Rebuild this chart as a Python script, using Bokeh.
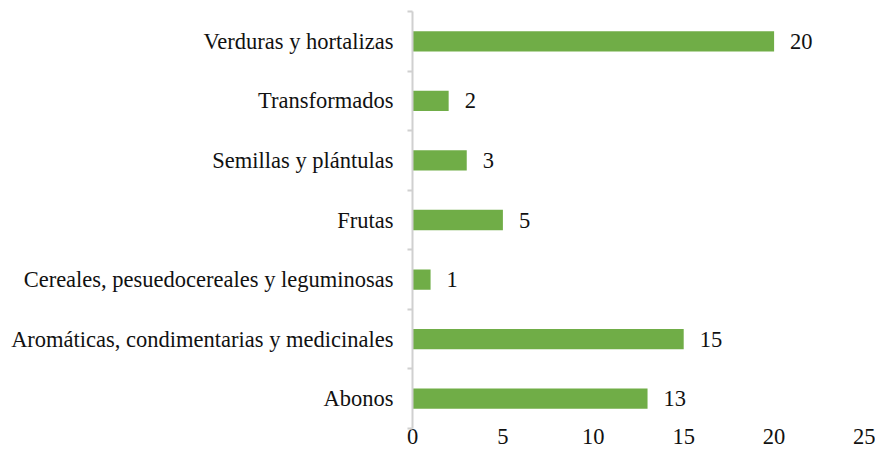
from bokeh.plotting import figure
from bokeh.models import ColumnDataSource, FixedTicker, Range1d
from bokeh.core.properties import value
from bokeh.embed import file_html
from bokeh.resources import INLINE

# Data (top to bottom as shown in the chart)
categories = [
    "Verduras y hortalizas",
    "Transformados",
    "Semillas y plántulas",
    "Frutas",
    "Cereales, pesuedocereales y leguminosas",
    "Aromáticas, condimentarias y medicinales",
    "Abonos",
]
counts = [20, 2, 3, 5, 1, 15, 13]
x_ticks = [0, 5, 10, 15, 20, 25]

n = len(categories)
# bottom category at position 1, top at position n
positions = [n - i for i in range(n)]

source = ColumnDataSource(data=dict(
    y=positions,
    x=counts,
    label=[str(c) for c in counts],
    cat=categories,
))

FONT = "Liberation Serif"
FSIZE = "22.5px"
TEXT_COLOR = "#111111"
AXIS_COLOR = "#d0d0d0"

p = figure(
    width=875, height=452,
    output_backend="svg", toolbar_location=None,
    x_range=Range1d(0, 25), y_range=Range1d(0.5, n + 0.5),
    min_border_top=11, min_border_right=11, min_border_bottom=24,
    min_border_left=412,
)
p.outline_line_color = None
p.xgrid.grid_line_color = None
p.ygrid.grid_line_color = None
p.background_fill_color = "white"
p.border_fill_color = "white"

p.hbar(y="y", right="x", left=0, height=0.34, source=source,
       fill_color="#70AD47", line_color=None)

p.text(x="x", y="y", text="label", source=source,
       x_offset=16, text_align="left", text_baseline="middle",
       text_font=value(FONT), text_font_size=FSIZE, text_color=TEXT_COLOR)

# x axis: labels only
p.xaxis.ticker = FixedTicker(ticks=x_ticks)
p.xaxis.axis_line_color = None
p.xaxis.major_tick_line_color = None
p.xaxis.minor_tick_line_color = None
p.xaxis.major_tick_out = 0
p.xaxis.major_tick_in = 0
p.xaxis.minor_tick_out = 0
p.xaxis.minor_tick_in = 0
p.xaxis.major_label_standoff = 0
p.xaxis.major_label_text_font = FONT
p.xaxis.major_label_text_font_size = FSIZE
p.xaxis.major_label_text_color = TEXT_COLOR

# y axis: category names at centres, tick marks at boundaries
p.yaxis.ticker = FixedTicker(ticks=positions,
                             minor_ticks=[i + 0.5 for i in range(n + 1)])
p.yaxis.major_label_overrides = {pos: cat for pos, cat in zip(positions, categories)}
p.yaxis.axis_line_color = AXIS_COLOR
p.yaxis.axis_line_width = 2
p.yaxis.major_tick_line_color = None
p.yaxis.minor_tick_line_color = AXIS_COLOR
p.yaxis.minor_tick_line_width = 2
p.yaxis.minor_tick_out = 5
p.yaxis.minor_tick_in = 0
p.yaxis.major_label_standoff = 13
p.yaxis.major_label_text_font = FONT
p.yaxis.major_label_text_font_size = FSIZE
p.yaxis.major_label_text_color = TEXT_COLOR

open("out.html", "w").write(file_html(p, INLINE))
